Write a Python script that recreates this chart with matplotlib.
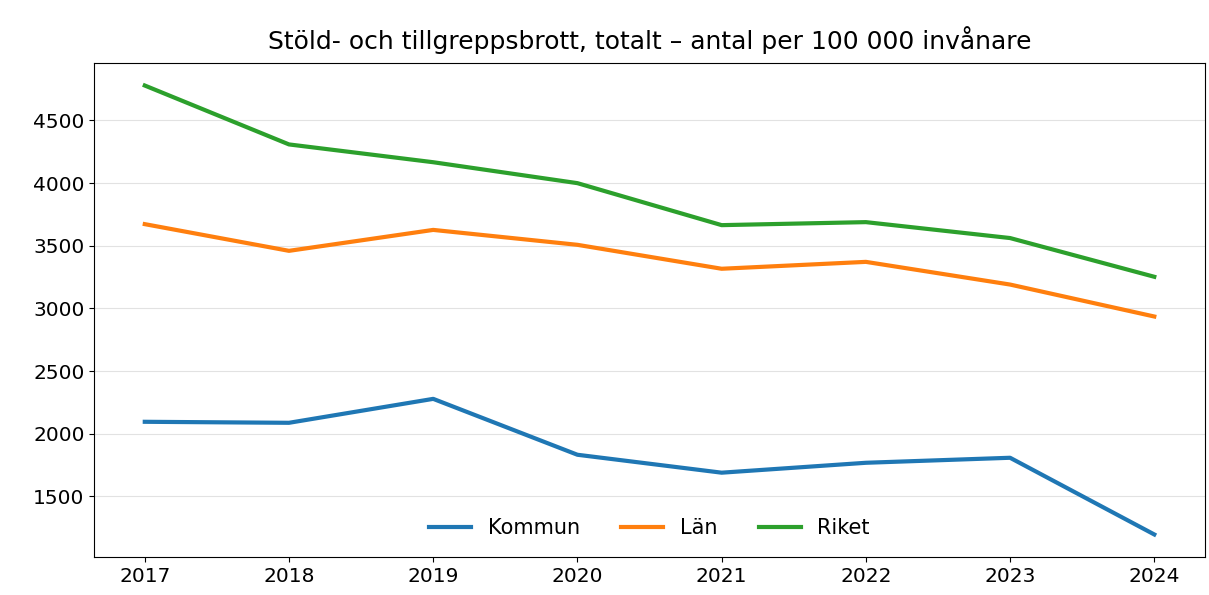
import matplotlib

matplotlib.use("Agg")
import matplotlib.pyplot as plt

years = [2017, 2018, 2019, 2020, 2021, 2022, 2023, 2024]
kommun = [2096, 2088, 2279, 1833, 1690, 1769, 1809, 1197]
lan = [3673, 3460, 3627, 3508, 3317, 3372, 3191, 2936]
riket = [4779, 4309, 4167, 4000, 3665, 3689, 3562, 3253]

title = "Stöld- och tillgreppsbrott, totalt – antal per 100 000 invånare"

fig, ax = plt.subplots(figsize=(12.09, 5.95), dpi=100)
fig.subplots_adjust(left=0.078, right=0.9965, top=0.894, bottom=0.064)

ax.plot(years, kommun, color="#1f77b4", linewidth=3, label="Kommun")
ax.plot(years, lan, color="#ff7f0e", linewidth=3, label="Län")
ax.plot(years, riket, color="#2ca02c", linewidth=3, label="Riket")

ax.set_title(title, fontsize=18, pad=10)
ax.set_xticks(years)
ax.set_yticks([1500, 2000, 2500, 3000, 3500, 4000, 4500])
ax.tick_params(labelsize=14.5)
ax.set_axisbelow(True)
ax.yaxis.grid(True, color="#e2e2e2", linewidth=0.8)
ax.legend(loc="lower center", ncol=3, frameon=False, fontsize=15)

fig.savefig("out.png", dpi=100)
